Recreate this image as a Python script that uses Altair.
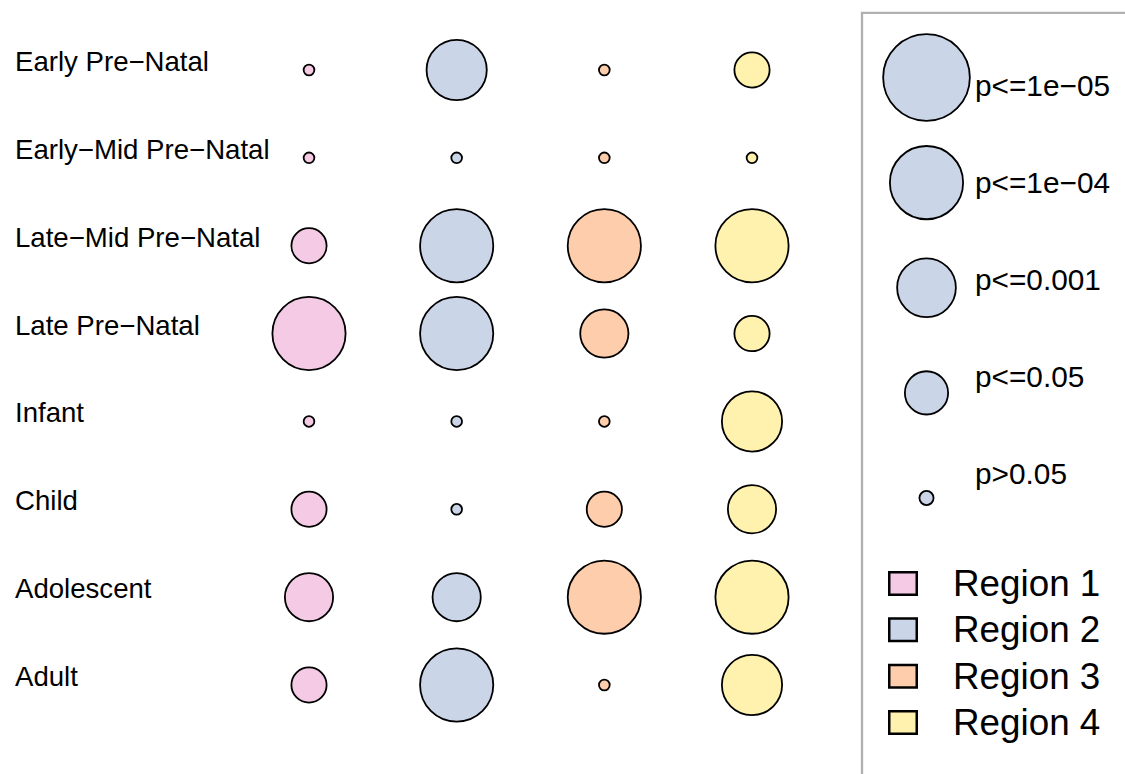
import altair as alt
import pandas as pd

# --- data -----------------------------------------------------------------
stages = [
    "Early Pre\u2212Natal",
    "Early\u2212Mid Pre\u2212Natal",
    "Late\u2212Mid Pre\u2212Natal",
    "Late Pre\u2212Natal",
    "Infant",
    "Child",
    "Adolescent",
    "Adult",
]
regions = ["Region 1", "Region 2", "Region 3", "Region 4"]
p_levels = ["p<=1e\u221205", "p<=1e\u221204", "p<=0.001", "p<=0.05", "p>0.05"]

# significance class of each stage (rows) for each region (columns)
region1_p = ["p>0.05", "p>0.05", "p<=0.05", "p<=1e\u221205", "p>0.05", "p<=0.05", "p<=0.001", "p<=0.05"]
region2_p = ["p<=1e\u221204", "p>0.05", "p<=1e\u221205", "p<=1e\u221205", "p>0.05", "p>0.05", "p<=0.001", "p<=1e\u221205"]
region3_p = ["p>0.05", "p>0.05", "p<=1e\u221205", "p<=0.001", "p>0.05", "p<=0.05", "p<=1e\u221205", "p>0.05"]
region4_p = ["p<=0.05", "p>0.05", "p<=1e\u221205", "p<=0.05", "p<=1e\u221204", "p<=0.001", "p<=1e\u221205", "p<=1e\u221204"]

region_colors = ["#f4cae4", "#cbd5e8", "#fdcdac", "#fff2ae"]

# --- tables built from the lists above --------------------------------------
cells = pd.DataFrame(
    [
        {"stage": s, "region": r, "p": p}
        for r, col in zip(regions, [region1_p, region2_p, region3_p, region4_p])
        for s, p in zip(stages, col)
    ]
)
stage_df = pd.DataFrame({"stage": stages})
plev_df = pd.DataFrame({"p": p_levels})
region_df = pd.DataFrame({"region": regions})
frame_df = pd.DataFrame({"k": [0]})

FONT = "Liberation Sans"

# --- scales ----------------------------------------------------------------
stage_y = alt.Scale(type="point", domain=stages, range=[70, 685], padding=0)
region_x = alt.Scale(type="point", domain=regions, range=[309, 752], padding=0)
fill_scale = alt.Scale(domain=regions, range=region_colors)
size_main = alt.Scale(type="ordinal", domain=p_levels,
                      range=[5360, 3625, 2325, 1240, 115])
size_key = alt.Scale(type="ordinal", domain=p_levels,
                     range=[7520, 5360, 3450, 1870, 200])

# --- layers ----------------------------------------------------------------
frame = alt.Chart(frame_df).mark_rect(
    fillOpacity=0, stroke="#b0b0b0", strokeWidth=2.3
).encode(
    x=alt.value(862), x2=alt.value(1135), y=alt.value(12.8), y2=alt.value(790)
)

row_labels = alt.Chart(stage_df).mark_text(
    align="left", baseline="alphabetic", font=FONT, fontSize=27.6, color="black", dy=1
).encode(
    x=alt.value(15),
    y=alt.Y("stage:N", scale=stage_y, axis=None),
    text="stage:N",
)

bubbles = alt.Chart(cells).mark_point(
    shape="circle", filled=True, opacity=1, stroke="black", strokeWidth=1.8
).encode(
    x=alt.X("region:N", scale=region_x, axis=None),
    y=alt.Y("stage:N", scale=stage_y, axis=None),
    size=alt.Size("p:O", scale=size_main, legend=None),
    fill=alt.Fill("region:N", scale=fill_scale, legend=None),
)

key_circles = alt.Chart(plev_df).mark_point(
    shape="circle", filled=True, opacity=1, fill="#cbd5e8",
    stroke="black", strokeWidth=1.8
).encode(
    x=alt.value(926.5),
    y=alt.Y("p:N", scale=alt.Scale(type="point", domain=p_levels,
                                   range=[77.5, 498], padding=0), axis=None),
    size=alt.Size("p:O", scale=size_key, legend=None),
)

key_labels = alt.Chart(plev_df).mark_text(
    align="left", baseline="alphabetic", font=FONT, fontSize=29.8, color="black"
).encode(
    x=alt.value(975),
    y=alt.Y("p:N", scale=alt.Scale(type="point", domain=p_levels,
                                   range=[96, 484], padding=0), axis=None),
    text="p:N",
)

region_boxes = alt.Chart(region_df).mark_point(
    shape="M-1,-0.818H1V0.818H-1Z", filled=True, opacity=1,
    stroke="black", strokeWidth=2.5
).encode(
    x=alt.value(903),
    y=alt.Y("region:N", scale=alt.Scale(type="point", domain=regions,
                                        range=[583.5, 722.5], padding=0), axis=None),
    size=alt.value(756),
    fill=alt.Fill("region:N", scale=fill_scale, legend=None),
)

region_labels = alt.Chart(region_df).mark_text(
    align="left", baseline="alphabetic", font=FONT, fontSize=36.8, color="black"
).encode(
    x=alt.value(953),
    y=alt.Y("region:N", scale=alt.Scale(type="point", domain=regions,
                                        range=[596, 735], padding=0), axis=None),
    text="region:N",
)

chart = (
    alt.layer(frame, row_labels, bubbles, key_circles, key_labels,
              region_boxes, region_labels)
    .resolve_scale(x="independent", y="independent", size="independent",
                   fill="independent")
    .properties(width=1125, height=774, padding=0,
                autosize=alt.AutoSizeParams(type="none"), background="white")
    .configure_view(stroke=None)
)

chart.save("out.html", embed_options={"renderer": "svg", "actions": False})
